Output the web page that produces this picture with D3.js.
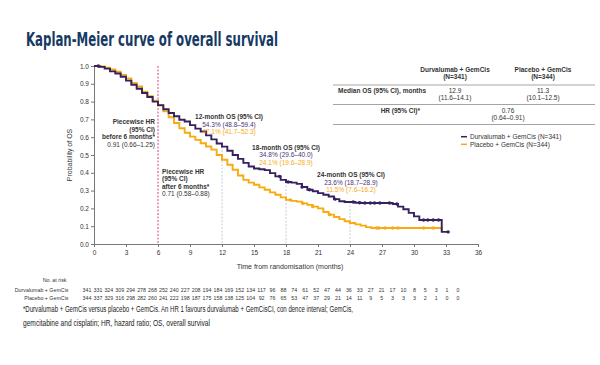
<!DOCTYPE html>
<html>
<head>
<meta charset="utf-8">
<script src="https://cdn.jsdelivr.net/npm/d3@7"></script>
<style>
  body { margin: 0; background: #fff; }
  svg { display: block; font-family: "Liberation Sans", Arial, sans-serif; }
  .axis path, .axis line { stroke: #777; }
  .axis text { fill: #333; font-size: 6.5px; }
</style>
</head>
<body>
<div id="chart"></div>
<script>
// survival estimates (months, probability)
const durvaTimes = [0, 0.5, 1, 1.5, 2, 2.5, 3, 3.5, 4, 4.5, 5, 5.5, 6, 6.5, 7, 7.5, 8, 8.5, 9, 9.5, 10, 10.5, 11, 11.5, 12, 12.5, 13, 13.5, 14, 14.5, 15, 15.5, 16, 16.5, 17, 17.5, 18, 18.5, 19, 19.5, 20, 20.5, 21, 21.5, 22, 22.5, 23, 23.5, 24.5, 25, 28, 28.5, 29, 29.5, 30, 30.5, 32.6, 33.2];
const durvaSurv = [1.0, 0.995, 0.985, 0.97, 0.958, 0.94, 0.918, 0.895, 0.872, 0.848, 0.826, 0.80, 0.78, 0.757, 0.736, 0.718, 0.698, 0.688, 0.668, 0.648, 0.632, 0.61, 0.588, 0.565, 0.547, 0.524, 0.50, 0.478, 0.456, 0.435, 0.424, 0.42, 0.415, 0.398, 0.38, 0.36, 0.348, 0.345, 0.338, 0.32, 0.305, 0.296, 0.286, 0.277, 0.267, 0.252, 0.24, 0.236, 0.232, 0.23, 0.225, 0.21, 0.195, 0.175, 0.155, 0.135, 0.068, 0.068];
const placTimes = [0, 0.5, 1, 1.5, 2, 2.5, 3, 3.5, 4, 4.5, 5, 5.5, 6, 6.5, 7, 7.5, 8, 8.5, 9, 9.5, 10, 10.5, 11, 11.5, 12, 12.5, 13, 13.5, 14, 14.5, 15, 15.5, 16, 16.5, 17, 17.5, 18, 18.5, 19, 19.5, 20, 20.5, 21, 21.5, 22, 22.5, 23, 23.5, 24, 24.5, 25, 25.5, 26, 32.6, 32.7];
const placSurv = [1.0, 0.998, 0.99, 0.98, 0.968, 0.95, 0.93, 0.905, 0.885, 0.855, 0.83, 0.805, 0.778, 0.745, 0.712, 0.68, 0.65, 0.625, 0.603, 0.585, 0.566, 0.548, 0.53, 0.50, 0.473, 0.445, 0.417, 0.385, 0.36, 0.345, 0.333, 0.318, 0.305, 0.29, 0.277, 0.262, 0.248, 0.242, 0.238, 0.228, 0.22, 0.21, 0.20, 0.18, 0.165, 0.152, 0.14, 0.128, 0.118, 0.11, 0.103, 0.095, 0.09, 0.075, 0.075];

// censoring marks (months)
const durvaCensor = [0.4, 17.4, 18.2, 19.5, 20.2, 22.6, 24.3, 24.9, 25.4, 25.9, 26.3, 26.8, 27.7, 28.4, 30.9, 31.3, 31.8, 32.3, 33.2];
const placCensor = [0.6, 18.4, 19.6, 20.5, 22.1, 26.5, 26.7, 27.3, 28.0, 28.5, 30.9, 31.8];

const xTicks = d3.range(0, 37, 3);
const yTicks = d3.range(0, 1.01, 0.1);
const landmarks = [12, 18, 24];

const riskMonths = d3.range(0, 35);
const riskDurva = [341, 331, 324, 309, 294, 278, 268, 252, 240, 227, 208, 194, 184, 169, 152, 134, 117, 96, 88, 74, 61, 52, 47, 44, 36, 33, 27, 21, 17, 10, 8, 5, 3, 1, 0];
const riskPlac = [344, 337, 329, 316, 298, 282, 260, 241, 222, 198, 187, 175, 158, 138, 125, 104, 92, 76, 65, 53, 47, 37, 29, 21, 14, 11, 9, 5, 3, 3, 3, 2, 1, 0, 0];

const osLabels = [
  {m: 12, head: "12-month OS (95% CI)", d: "54.3% (48.8–59.4)", p: "47.1% (41.7–52.3)"},
  {m: 18, head: "18-month OS (95% CI)", d: "34.8% (29.6–40.0)", p: "24.1% (19.6–28.9)"},
  {m: 24, head: "24-month OS (95% CI)", d: "23.6% (18.7–28.9)", p: "11.5% (7.6–16.2)"}
];

const purple = "#36205f", orange = "#f8ab10", navy = "#163a63";
const narrow = "'Liberation Sans Narrow', 'DejaVu Sans Condensed', sans-serif";

const width = 600, height = 365;
const svg = d3.select("#chart").append("svg")
  .attr("width", width).attr("height", height);

svg.append("text")
  .attr("x", 26).attr("y", 46)
  .attr("textLength", 252).attr("lengthAdjust", "spacingAndGlyphs")
  .style("font-family", narrow)
  .style("font-weight", "bold").style("font-size", "19px")
  .style("fill", navy)
  .text("Kaplan-Meier curve of overall survival");

const x = d3.scaleLinear().domain([0, 36]).range([94, 478]);
const y = d3.scaleLinear().domain([0, 1]).range([244, 66]);

// axes
svg.append("g").attr("class", "axis")
  .attr("transform", "translate(0," + y(0) + ")")
  .call(d3.axisBottom(x).tickValues(xTicks).tickSize(3).tickPadding(3));
svg.append("g").attr("class", "axis")
  .attr("transform", "translate(" + x(0) + ",0)")
  .call(d3.axisLeft(y).tickValues(yTicks).tickFormat(d3.format(".1f")).tickSize(3).tickPadding(2));

svg.append("text")
  .attr("transform", "translate(72," + y(0.5) + ") rotate(-90)")
  .attr("text-anchor", "middle")
  .style("font-size", "7px").style("fill", "#333")
  .text("Probability of OS");
svg.append("text")
  .attr("x", x(18) + 4).attr("y", 269)
  .attr("text-anchor", "middle")
  .style("font-size", "7px").style("fill", "#333")
  .text("Time from randomisation (months)");

// 6 month split
svg.append("line")
  .attr("x1", x(6)).attr("x2", x(6))
  .attr("y1", y(1)).attr("y2", y(0))
  .style("stroke", "#e0457b").style("stroke-width", 1)
  .style("stroke-dasharray", "2,1.5");

function stepValue(times, surv, t) {
  const i = d3.bisectRight(times, t) - 1;
  return surv[Math.max(0, i)];
}

// landmark guides
svg.selectAll(".lm").data(landmarks).enter().append("line")
  .attr("x1", d => x(d)).attr("x2", d => x(d))
  .attr("y1", d => y(stepValue(durvaTimes, durvaSurv, d)))
  .attr("y2", y(0))
  .style("stroke", "#b5c0cc").style("stroke-width", 0.8)
  .style("stroke-dasharray", "2,1.5");

const line = d3.line()
  .x(d => x(d[0])).y(d => y(d[1]))
  .curve(d3.curveStepAfter);

const series = [
  {times: placTimes, surv: placSurv, cens: placCensor, color: orange},
  {times: durvaTimes, surv: durvaSurv, cens: durvaCensor, color: purple}
];

series.forEach(s => {
  svg.append("path")
    .datum(s.times.map((t, i) => [t, s.surv[i]]))
    .attr("d", line)
    .style("fill", "none").style("stroke", s.color).style("stroke-width", 1.9);
  svg.append("g").selectAll("circle").data(s.cens).enter().append("circle")
    .attr("cx", d => x(d))
    .attr("cy", d => y(stepValue(s.times, s.surv, d)))
    .attr("r", 1.7)
    .style("fill", s.color);
});

// piecewise HR notes
function textBlock(lines, xPos, y0, anchor) {
  const g = svg.append("g");
  lines.forEach((l, i) => {
    g.append("text")
      .attr("x", xPos).attr("y", y0 + i * 7.6)
      .attr("text-anchor", anchor)
      .style("font-size", "6.5px")
      .style("font-weight", l.bold ? "bold" : "normal")
      .style("fill", l.color || "#333")
      .text(l.t);
  });
}
textBlock([{t: "Piecewise HR", bold: true}, {t: "(95% CI)", bold: true}, {t: "before 6 months*", bold: true}, {t: "0.91 (0.66–1.25)"}], x(6) - 3, 124, "end");
textBlock([{t: "Piecewise HR", bold: true}, {t: "(95% CI)", bold: true}, {t: "after 6 months*", bold: true}, {t: "0.71 (0.58–0.88)"}], x(6) + 4, 173.5, "start");

const osY = {12: 119, 18: 149.5, 24: 177};
const osDx = {12: 7, 18: 0, 24: 1};
osLabels.forEach(o => {
  textBlock([{t: o.head, bold: true}, {t: o.d, color: "#4a3478"}, {t: o.p, color: orange}],
    x(o.m) + osDx[o.m], osY[o.m], "middle");
});

// summary table
const tbl = svg.append("g").style("font-size", "6.5px").style("fill", "#333");
const col1 = 455, col2 = 543;
[[col1, "Durvalumab + GemCis", "(N=341)"], [col2, "Placebo + GemCis", "(N=344)"]].forEach(c => {
  tbl.append("text").attr("x", c[0]).attr("y", 72).attr("text-anchor", "middle").style("font-weight", "bold").text(c[1]);
  tbl.append("text").attr("x", c[0]).attr("y", 79).attr("text-anchor", "middle").style("font-weight", "bold").text(c[2]);
});
[85, 104.5, 124.5].forEach(ly => {
  tbl.append("line").attr("x1", 333).attr("x2", 595).attr("y1", ly).attr("y2", ly)
    .style("stroke", "#9a9a9a").style("stroke-width", 0.9);
});
tbl.append("text").attr("x", 338).attr("y", 92.5).style("font-weight", "bold").text("Median OS (95% CI), months");
tbl.append("text").attr("x", col1).attr("y", 92.5).attr("text-anchor", "middle").text("12.9");
tbl.append("text").attr("x", col1).attr("y", 100).attr("text-anchor", "middle").text("(11.6–14.1)");
tbl.append("text").attr("x", col2).attr("y", 92.5).attr("text-anchor", "middle").text("11.3");
tbl.append("text").attr("x", col2).attr("y", 100).attr("text-anchor", "middle").text("(10.1–12.5)");
tbl.append("text").attr("x", 420).attr("y", 112.5).attr("text-anchor", "end").style("font-weight", "bold").text("HR (95% CI)*");
tbl.append("text").attr("x", 508).attr("y", 112.5).attr("text-anchor", "middle").text("0.76");
tbl.append("text").attr("x", 508).attr("y", 120).attr("text-anchor", "middle").text("(0.64–0.91)");

// legend
[[purple, "Durvalumab + GemCis (N=341)", 136.7], [orange, "Placebo + GemCis (N=344)", 144.3]].forEach(l => {
  svg.append("line").attr("x1", 461).attr("x2", 467).attr("y1", l[2]).attr("y2", l[2])
    .style("stroke", l[0]).style("stroke-width", 1.5);
  svg.append("text").attr("x", 470).attr("y", l[2] + 2.2)
    .style("font-size", "6.5px").style("fill", "#333").text(l[1]);
});

// number at risk
const rx = d3.scaleLinear().domain([0, 34]).range([87, 458]);
const risk = svg.append("g").style("font-size", "5.3px").style("fill", "#333");
risk.append("text").attr("x", 66.5).attr("y", 281.5).attr("text-anchor", "end").text("No. at risk");
[["Durvalumab + GemCis", riskDurva, 292], ["Placebo + GemCis", riskPlac, 300.3]].forEach(r => {
  risk.append("text").attr("x", 68.5).attr("y", r[2]).attr("text-anchor", "end").text(r[0]);
  risk.selectAll(null).data(r[1]).enter().append("text")
    .attr("x", (d, i) => rx(riskMonths[i])).attr("y", r[2])
    .attr("text-anchor", "middle").text(d => d);
});

// footnote
const foot = svg.append("g").style("font-size", "8.4px").style("fill", "#222");
foot.append("text").attr("x", 23).attr("y", 312).attr("textLength", 330).attr("lengthAdjust", "spacingAndGlyphs")
  .text("*Durvalumab + GemCis versus placebo + GemCis. An HR   1 favours durvalumab + GemCisCI, con   dence interval; GemCis,");
foot.append("text").attr("x", 23).attr("y", 326).attr("textLength", 187).attr("lengthAdjust", "spacingAndGlyphs")
  .text("gemcitabine and cisplatin; HR, hazard ratio; OS, overall survival");
</script>
</body>
</html>
